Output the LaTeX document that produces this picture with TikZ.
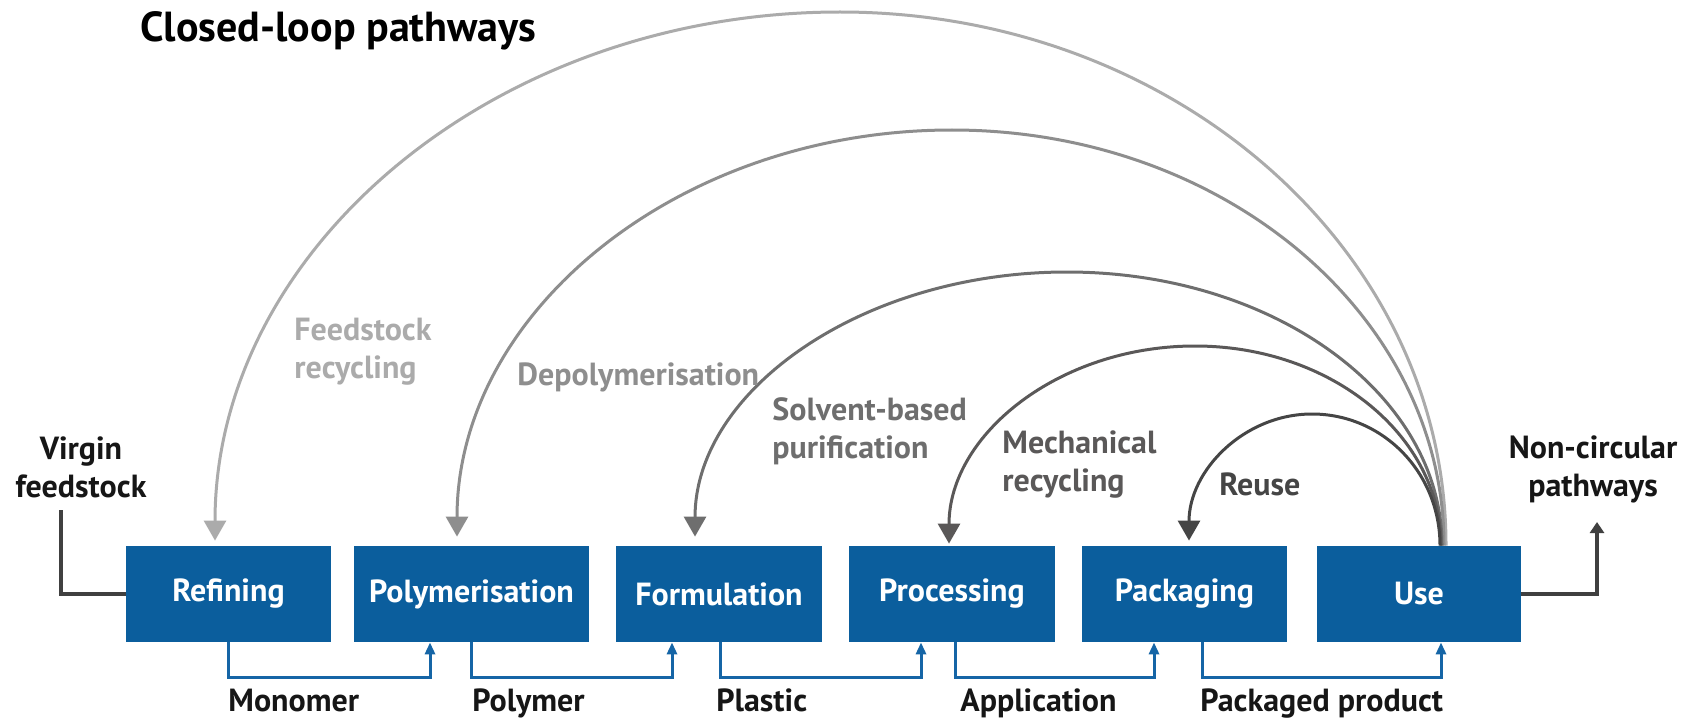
\documentclass[tikz,border=0pt]{standalone}
\usepackage{fontspec}
\setmainfont{PT Sans}
\usetikzlibrary{arrows.meta}
\definecolor{boxblue}{HTML}{0B5E9D}
\definecolor{flowblue}{HTML}{1565A6}
\definecolor{darkline}{HTML}{404040}
\definecolor{inktext}{HTML}{161616}
\definecolor{arcA}{HTML}{ABABAB}
\definecolor{arcB}{HTML}{8E8E8E}
\definecolor{arcC}{HTML}{6E6E6E}
\definecolor{arcD}{HTML}{5A5858}
\definecolor{arcE}{HTML}{454545}
\tikzset{
  stage/.style={fill=boxblue, text=white, font=\bfseries\fontsize{16pt}{19pt}\selectfont,
    minimum height=48pt, inner sep=0pt},
  flow/.style={draw=flowblue, line width=1.5pt, -{Triangle[width=5pt,length=6pt]}},
  lbl/.style={font=\bfseries\fontsize{16pt}{19pt}\selectfont, inner sep=0pt, text=inktext},
  loopline/.style={line width=1.5pt, -{Triangle[width=11pt,length=10pt]}},
  sideline/.style={draw=darkline, line width=2pt},
}
\begin{document}
\begin{tikzpicture}[x=0.5pt,y=-0.5pt]
\useasboundingbox (0,0) rectangle (1696,717);

% title
\node[anchor=base west, inner sep=0pt, text=black, font=\bfseries\fontsize{21pt}{25pt}\selectfont] (title) at (140,42) {Closed-loop pathways};

% stages
\node[stage, minimum width=102.5pt] (ref) at (228.5,594) {Refining};
\node[stage, minimum width=117.5pt] (pol) at (471.5,594) {Polymerisation};
\node[stage, minimum width=103pt]   (for) at (719,594)   {Formulation};
\node[stage, minimum width=103pt]   (pro) at (952,594)   {Processing};
\node[stage, minimum width=102.5pt] (pac) at (1184.5,594) {Packaging};
\node[stage, minimum width=102pt]   (use) at (1419,594)  {Use};

% product flows
\draw[flow] (ref.south) -- ++(0,35) -| ([xshift=-20.75pt]pol.south);
\draw[flow] (pol.south) -- ++(0,35) -| ([xshift=-23.5pt]for.south);
\draw[flow] ([xshift=0.5pt]for.south) -- ++(0,35) -| ([xshift=-15.5pt]pro.south);
\draw[flow] ([xshift=1.5pt]pro.south) -- ++(0,35) -| ([xshift=-15.25pt]pac.south);
\draw[flow] ([xshift=8.75pt]pac.south) -- ++(0,35) -| ([xshift=11pt]use.south);

\node[lbl, anchor=base west] (mon)  at (228,711)  {Monomer};
\node[lbl, anchor=base west] (plm)  at (472,711)  {Polymer};
\node[lbl, anchor=base west] (pla)  at (716,711)  {Plastic};
\node[lbl, anchor=base west] (app)  at (960,711)  {Application};
\node[lbl, anchor=base west] (ppr)  at (1200,711) {Packaged product};

% virgin feedstock / non-circular
\node[lbl, align=center] (virgin) at (81,467) {Virgin\\feedstock};
\node[lbl, align=center] (noncirc) at (1593,469) {Non-circular\\pathways};
\coordinate (vEnd) at (60.5,510);
\coordinate (nEnd) at (1597,522);
\draw[sideline] (ref.west) -| (vEnd);
\draw[sideline, -{Triangle[width=7pt,length=5.5pt]}] (use.east) -| (nEnd);

% loop peaks
\coordinate (p1) at (840,12);
\coordinate (p2) at (952,130);
\coordinate (p3) at (1067,272);
\coordinate (p4) at (1195,346);
\coordinate (p5) at (1312,414);

% closed loops
\draw[loopline, draw=arcA] ([xshift=13.5pt]use.north)
  .. controls +(0,-295) and +(335,0) .. (p1)
  .. controls +(-345,0) and +(0,-292) .. ([xshift=-6.75pt,yshift=2.5pt]ref.north);
\draw[loopline, draw=arcB] ([xshift=12.5pt]use.north)
  .. controls +(0,-230) and +(272,0) .. (p2)
  .. controls +(-273,0) and +(0,-225) .. ([xshift=-7.25pt,yshift=4.5pt]pol.north);
\draw[loopline, draw=arcC] ([xshift=11.5pt]use.north)
  .. controls +(0,-151) and +(207,0) .. (p3)
  .. controls +(-205,0) and +(0,-146) .. ([xshift=-12pt,yshift=4.5pt]for.north);
\draw[loopline, draw=arcD] ([xshift=11pt]use.north)
  .. controls +(0,-110) and +(136,0) .. (p4)
  .. controls +(-136,0) and +(0,-109) .. ([xshift=-1.5pt,yshift=1pt]pro.north);
\draw[loopline, draw=arcE] ([xshift=10.5pt]use.north)
  .. controls +(0,-73) and +(71,0) .. (p5)
  .. controls +(-68,0) and +(0,-70) .. ([xshift=2.25pt,yshift=2.5pt]pac.north);

% loop labels
\node[lbl, align=left, anchor=west, text=arcA] (lfeed) at (294,352) {Feedstock\\recycling};
\node[lbl, anchor=base west, text=arcB] (ldepo) at (517,385) {Depolymerisation};
\node[lbl, align=left, anchor=west, text=arcC] (lsolv) at (772,431) {Solvent-based\\purification};
\node[lbl, align=left, anchor=west, text=arcD] (lmech) at (1002,465) {Mechanical\\recycling};
\node[lbl, anchor=base west, text=arcE] (lreuse) at (1219,495) {Reuse};
\end{tikzpicture}
\end{document}
